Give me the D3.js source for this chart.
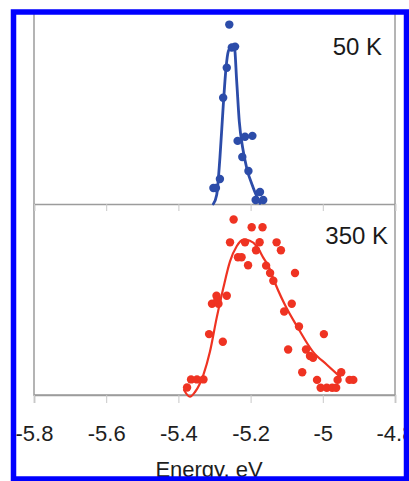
<!DOCTYPE html>
<html>
<head>
<meta charset="utf-8">
<script src="https://cdn.jsdelivr.net/npm/d3@7"></script>
<style>
  body { margin: 0; background: #fff; }
  text { font-family: "Liberation Sans", Arial, sans-serif; }
</style>
</head>
<body>
<div id="chart"></div>
<script>
// tick values and labels of the energy axis
let xTicks = [-5.8, -5.6, -5.4, -5.2, -5.0, -4.8];
let xTickLabels = ["-5.8", "-5.6", "-5.4", "-5.2", "-5", "-4.8"];

// 50 K measured points (energy, normalised intensity)
let k50Energy = [-5.259, -5.252, -5.243, -5.266, -5.276, -5.236, -5.2155, -5.195,
    -5.223, -5.206, -5.285, -5.303, -5.296, -5.174, -5.186, -5.165];
let k50Intensity = [1.14, 0.994, 1.0, 0.866, 0.675, 0.401, 0.427, 0.433,
    0.299, 0.21, 0.159, 0.102, 0.102, 0.076, 0.025, 0.025];

// 50 K fit curve
let k50FitEnergy = [-5.3033, -5.294, -5.285, -5.2756, -5.268, -5.2618, -5.2524, -5.2452,
    -5.2385, -5.2313, -5.222, -5.2108, -5.1925, -5.174];
let k50FitIntensity = [0, 0.057, 0.293, 0.631, 0.866, 0.97, 1.002, 1.002,
    0.779, 0.524, 0.357, 0.229, 0.102, 0.004];

// 350 K measured points
let k350Energy = [-5.247, -5.197, -5.167, -5.257, -5.2155, -5.175, -5.128, -5.116, -5.185,
    -5.235, -5.225, -5.207, -5.157, -5.146, -5.077, -5.137, -5.266, -5.2945, -5.307,
    -5.289, -5.292, -5.086, -5.107, -5.066, -5.315, -4.997, -5.277, -5.096, -5.0465,
    -5.0355, -5.027, -5.057, -4.949, -5.365, -5.3485, -5.3305, -5.376, -5.016, -4.959,
    -4.926, -4.9155, -5.006, -4.989, -4.974, -4.963];
let k350Intensity = [1.115, 1.066, 1.066, 0.97, 0.97, 0.971, 0.97, 0.92, 0.92,
    0.875, 0.875, 0.824, 0.822, 0.775, 0.775, 0.726, 0.631, 0.631, 0.58,
    0.58, 0.605, 0.58, 0.531, 0.435, 0.387, 0.387, 0.338, 0.289, 0.289,
    0.248, 0.236, 0.145, 0.145, 0.099, 0.099, 0.099, 0.048, 0.096, 0.096,
    0.096, 0.096, 0.046, 0.046, 0.046, 0.046];

// 350 K fit curve
let k350FitEnergy = [-5.3845, -5.368, -5.354, -5.331, -5.3125, -5.294, -5.2756, -5.257,
    -5.2385, -5.22, -5.202, -5.183, -5.165, -5.146, -5.138, -5.105, -5.069, -5.027,
    -4.988, -4.952];
let k350FitIntensity = [0.032, -0.011, 0.019, 0.127, 0.276, 0.49, 0.68, 0.849,
    0.945, 0.987, 0.98, 0.945, 0.873, 0.796, 0.745, 0.573, 0.427, 0.274,
    0.191, 0.115];

let width = 409, height = 481;
let plotLeft = 34, plotRight = 395, plotTop = 12, plotMid = 204, plotBottom = 395;
let grey = "#9c9c9c";

let svg = d3.select("div#chart")
    .append("svg")
    .attr("width", width)
    .attr("height", height);

let x = d3.scaleLinear()
    .domain([-5.8, -4.8])
    .range([plotLeft, plotRight]);

let yTop = d3.scaleLinear()
    .domain([0, 1.22])
    .range([plotMid, plotTop]);

let yBot = d3.scaleLinear()
    .domain([0, 1.22])
    .range([plotBottom, plotBottom - (plotMid - plotTop)]);

// panel frames
svg.append("rect")
    .attr("x", plotLeft).attr("y", plotTop)
    .attr("width", plotRight - plotLeft).attr("height", plotBottom - plotTop)
    .attr("fill", "none")
    .attr("stroke", grey)
    .attr("stroke-width", 1.5);

// ticks on the separator between panels
let midAxis = svg.append("g")
    .attr("transform", "translate(0," + plotMid + ")")
    .call(d3.axisBottom(x).tickValues(xTicks).tickSize(7).tickFormat(""));
midAxis.select(".domain").attr("stroke", grey).attr("stroke-width", 1.5);
midAxis.selectAll(".tick line").attr("stroke", "#c8c8c8");

// bottom axis
let xAxis = svg.append("g")
    .attr("transform", "translate(0," + plotBottom + ")")
    .call(d3.axisBottom(x)
        .tickValues(xTicks)
        .tickSize(8)
        .tickPadding(22)
        .tickFormat(function(d, i) { return xTickLabels[i]; }));
xAxis.select(".domain").attr("stroke", grey).attr("stroke-width", 1.5);
xAxis.selectAll(".tick line").attr("stroke", "#c8c8c8");
xAxis.selectAll(".tick text")
    .attr("fill", "#1e1e1e")
    .style("font-size", "22px")
    .style("font-family", "'Liberation Sans', Arial, sans-serif");

svg.append("text")
    .attr("x", 209)
    .attr("y", 477)
    .attr("text-anchor", "middle")
    .attr("fill", "#1e1e1e")
    .style("font-size", "22px")
    .text("Energy, eV");

function drawSeries(energy, intensity, fitE, fitI, y, color, lineWidth) {
    let pts = energy.map(function(e, i) { return {x: e, y: intensity[i]}; });
    let fit = fitE.map(function(e, i) { return {x: e, y: fitI[i]}; });

    let line = d3.line()
        .x(function(d) { return x(d.x); })
        .y(function(d) { return y(d.y); })
        .curve(d3.curveMonotoneX);

    svg.append("path")
        .datum(fit)
        .attr("fill", "none")
        .attr("stroke", color)
        .attr("stroke-width", lineWidth)
        .attr("stroke-linejoin", "round")
        .attr("stroke-linecap", "round")
        .attr("d", line);

    svg.append("g")
        .selectAll("circle")
        .data(pts)
        .enter()
        .append("circle")
        .attr("r", 4.2)
        .attr("cx", function(d) { return x(d.x); })
        .attr("cy", function(d) { return y(d.y); })
        .attr("fill", color);
}

drawSeries(k50Energy, k50Intensity, k50FitEnergy, k50FitIntensity, yTop, "#2c4ca9", 2.8);
drawSeries(k350Energy, k350Intensity, k350FitEnergy, k350FitIntensity, yBot, "#ef3322", 2.2);

// temperature labels
svg.append("text")
    .attr("x", 382).attr("y", 55)
    .attr("text-anchor", "end")
    .attr("fill", "#1a1a1a")
    .style("font-size", "24px")
    .text("50 K");

svg.append("text")
    .attr("x", 388).attr("y", 244)
    .attr("text-anchor", "end")
    .attr("fill", "#1a1a1a")
    .style("font-size", "24px")
    .text("350 K");

// blue outer border
svg.append("rect")
    .attr("x", 13.5).attr("y", 12)
    .attr("width", 393).attr("height", 467)
    .attr("fill", "none")
    .attr("stroke", "#0000ff")
    .attr("stroke-width", 5.5);
</script>
</body>
</html>
